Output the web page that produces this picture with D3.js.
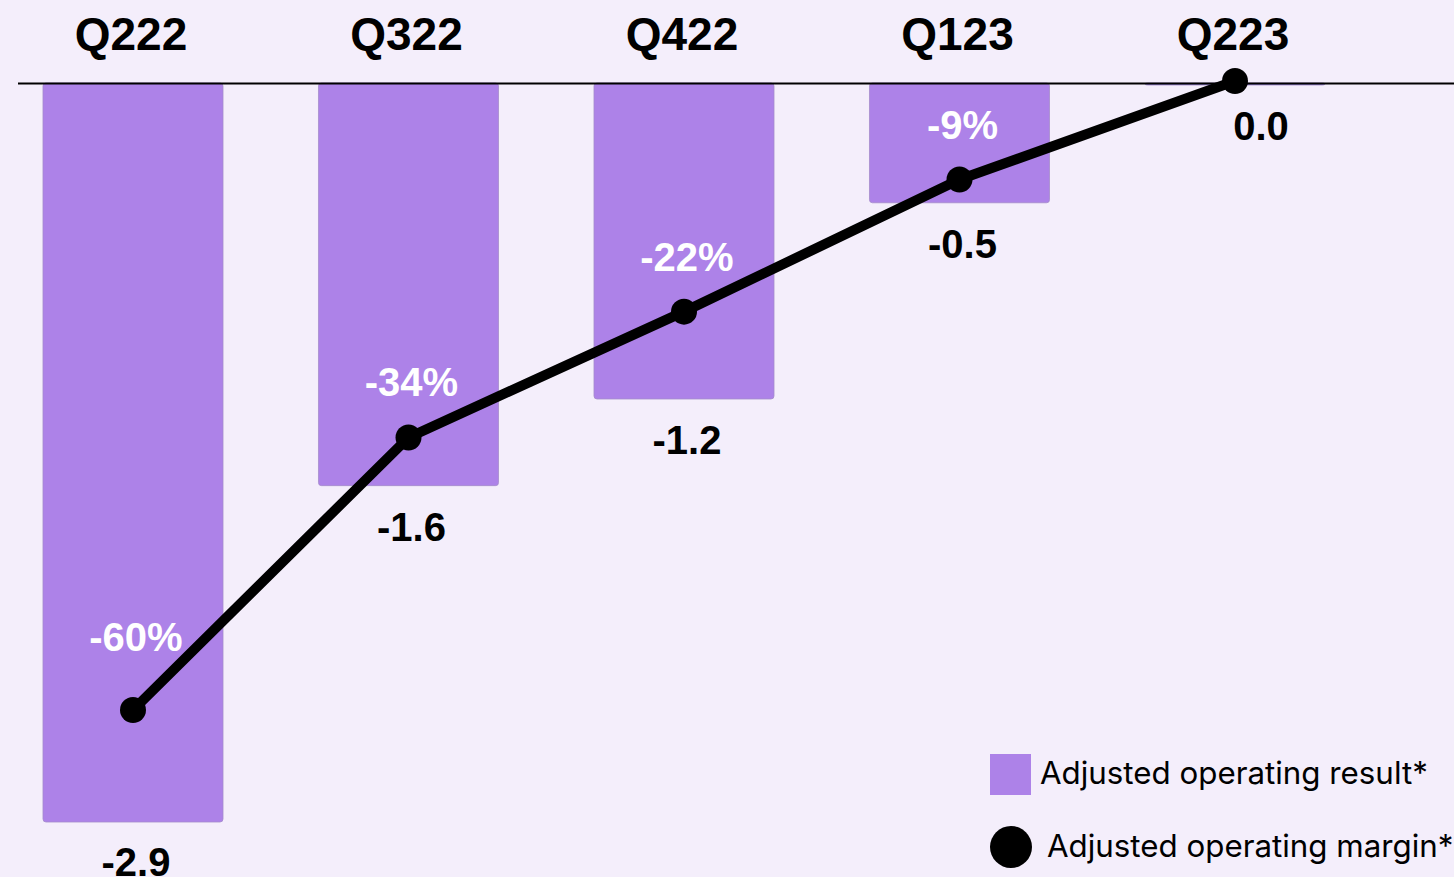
<!DOCTYPE html>
<html>
<head>
<meta charset="utf-8">
<script src="https://cdn.jsdelivr.net/npm/d3@7"></script>
<style>
    body { margin: 0; background: #f4eefb; }
    #content { width: 1454px; height: 877px; }
</style>
</head>
<body>
<div id="content"></div>
<script>
const quarters = ["Q222", "Q322", "Q422", "Q123", "Q223"];
const operatingResult = [-2.9, -1.58, -1.24, -0.47, -0.008];
const operatingMargin = [-60, -34, -22, -9.4, 0];
const legendLabels = ["Adjusted operating result*", "Adjusted operating margin*"];

function draw() {
    const width = 1454, height = 877;
    const barColor = "#ad82e8";

    const svg = d3.select("#content")
        .append("svg")
        .attr("width", width)
        .attr("height", height);

    svg.append("rect")
        .attr("width", width)
        .attr("height", height)
        .attr("fill", "#f4eefb");

    const x = d3.scaleBand()
        .domain(quarters)
        .range([-4.75, 1372.75])
        .paddingInner(0.3466)
        .paddingOuter(0.1733);

    const y = d3.scaleLinear()
        .domain([0, -2.9])
        .range([83, 822]);

    const yMargin = d3.scaleLinear()
        .domain([0, -60])
        .range([81, 710]);

    const fmt = d3.format(".1f");
    const cx = d => x(d) + x.bandwidth() / 2;
    const boldFont = "'Liberation Sans', Arial, sans-serif";

    // quarter labels along the top
    svg.selectAll(".qlabel")
        .data(quarters)
        .enter()
        .append("text")
        .attr("class", "qlabel")
        .attr("x", d => cx(d) - 2)
        .attr("y", 50)
        .attr("text-anchor", "middle")
        .style("font-family", boldFont)
        .style("font-weight", "bold")
        .style("font-size", "46px")
        .text(d => d);

    // bars hanging down from zero
    svg.selectAll(".bar")
        .data(quarters)
        .enter()
        .append("rect")
        .attr("class", "bar")
        .attr("x", d => x(d))
        .attr("y", y(0))
        .attr("width", x.bandwidth())
        .attr("height", (d, i) => Math.max(2, y(operatingResult[i]) - y(0)))
        .attr("rx", 3)
        .attr("fill", (d, i) => i === 4 ? "#8f7ee0" : barColor)
        .attr("stroke", "#a48ccb")
        .attr("stroke-width", 0.8);

    // baseline
    svg.append("line")
        .attr("x1", 18)
        .attr("x2", width)
        .attr("y1", 83.5)
        .attr("y2", 83.5)
        .attr("stroke", "black")
        .attr("stroke-width", 1.8);

    // value labels below bars
    svg.selectAll(".vlabel")
        .data(quarters)
        .enter()
        .append("text")
        .attr("class", "vlabel")
        .attr("x", (d, i) => cx(d) + (i === 4 ? 26 : 3))
        .attr("y", (d, i) => Math.min(y(operatingResult[i]) + 55, 876))
        .attr("text-anchor", "middle")
        .style("font-family", boldFont)
        .style("font-weight", "bold")
        .style("font-size", "40px")
        .text((d, i) => fmt(operatingResult[i]).replace("−0.0", "0.0").replace("−", "-"));

    // margin line
    const line = d3.line()
        .x((d, i) => cx(quarters[i]))
        .y(d => yMargin(d));

    svg.append("path")
        .datum(operatingMargin)
        .attr("d", line)
        .attr("fill", "none")
        .attr("stroke", "black")
        .attr("stroke-width", 10)
        .attr("stroke-linejoin", "round");

    svg.selectAll(".dot")
        .data(operatingMargin)
        .enter()
        .append("circle")
        .attr("class", "dot")
        .attr("cx", (d, i) => cx(quarters[i]))
        .attr("cy", d => yMargin(d))
        .attr("r", 13)
        .attr("fill", "black");

    // margin labels inside bars
    svg.selectAll(".mlabel")
        .data(operatingMargin.slice(0, 4))
        .enter()
        .append("text")
        .attr("class", "mlabel")
        .attr("x", (d, i) => cx(quarters[i]) + 3)
        .attr("y", (d, i) => yMargin(d) - (i === 0 ? 59 : 41))
        .attr("text-anchor", "middle")
        .attr("fill", "white")
        .style("font-family", boldFont)
        .style("font-weight", "bold")
        .style("font-size", "40px")
        .text(d => Math.round(d) + "%");

    // legend
    const legend = svg.append("g").attr("transform", "translate(990,754)");
    legend.append("rect")
        .attr("width", 41)
        .attr("height", 41)
        .attr("fill", barColor);
    legend.append("text")
        .attr("x", 50)
        .attr("y", 30)
        .style("font-family", "Inter, sans-serif")
        .style("font-size", "31.3px")
        .text(legendLabels[0]);
    legend.append("circle")
        .attr("cx", 21)
        .attr("cy", 93)
        .attr("r", 21)
        .attr("fill", "black");
    legend.append("text")
        .attr("x", 57)
        .attr("y", 103)
        .style("font-family", "Inter, sans-serif")
        .style("font-size", "31.3px")
        .text(legendLabels[1]);
}

draw();
</script>
</body>
</html>
